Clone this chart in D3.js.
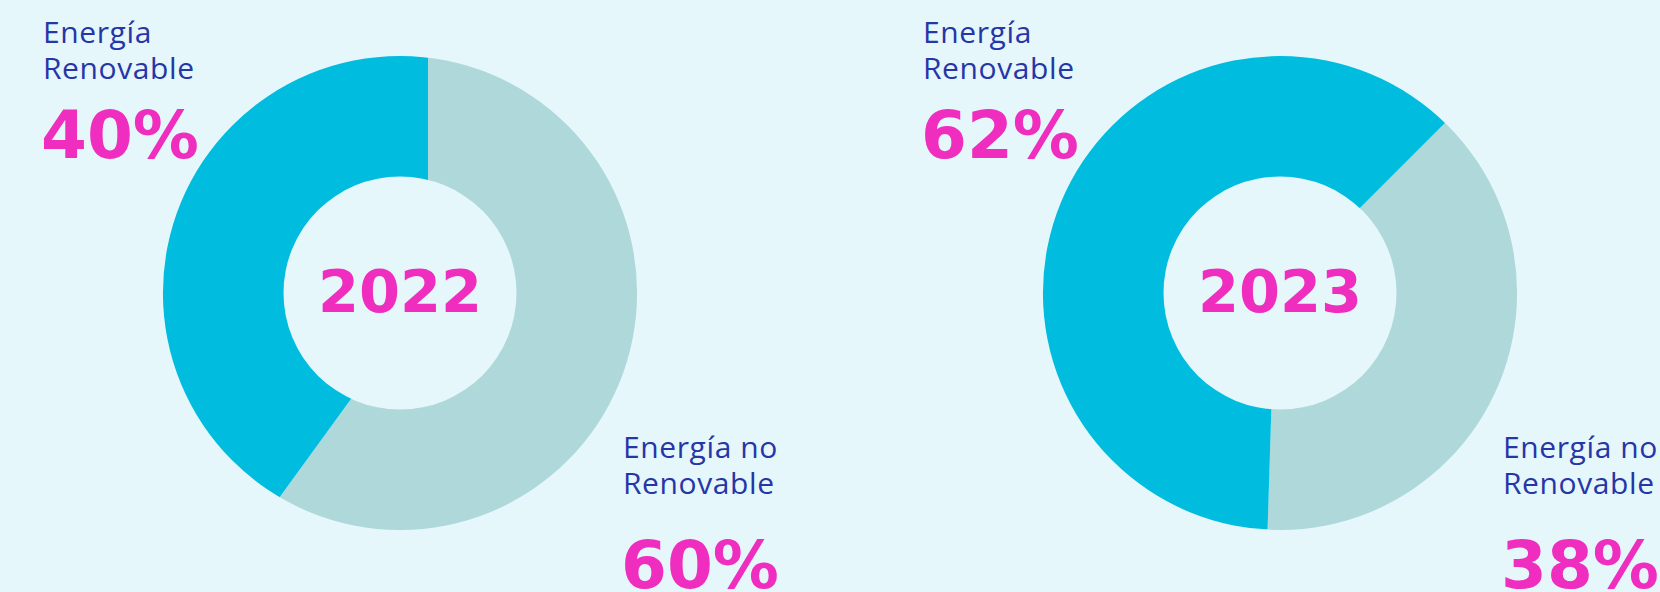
<!DOCTYPE html>
<html>
<head>
<meta charset="utf-8">
<script src="https://cdn.jsdelivr.net/npm/d3@7"></script>
<style>
  html, body { margin: 0; padding: 0; background: #e6f7fc; }
  svg { display: block; }
  .lbl { font-family: "Open Sans", sans-serif; font-size: 30px; font-weight: 500; fill: #2536a6; letter-spacing: 0.6px; }
  .pct { font-family: "DejaVu Sans", sans-serif; font-weight: bold; font-size: 66px; fill: #ef2dbf; }
  .year { font-family: "DejaVu Sans", sans-serif; font-weight: bold; font-size: 59px; fill: #ef2dbf; }
</style>
</head>
<body>
<svg id="chart" width="1660" height="592"></svg>
<script>
// data
const years = ["2022", "2023"];
const renewable = [40, 62];
const nonRenewable = [60, 38];
const renewableLabel = ["Energía", "Renovable"];
const nonRenewableLabel = ["Energía no", "Renovable"];

// layout
const width = 1660, height = 592;
const outerR = 237, innerR = 116.5;
const startDeg = [0, 45];     // where the non-renewable slice starts
const apexShift = [28, -5];   // wedge tip sits a bit off the ring center

let svg = d3.select("#chart");
svg.append("rect").attr("width", width).attr("height", height).attr("fill", "#e6f7fc");

let x = d3.scalePoint().domain(years).range([400, 1280]);
let color = d3.scaleOrdinal().domain(["non", "ren"]).range(["#afd8db", "#00bde0"]);

let ring = d3.arc().innerRadius(innerR).outerRadius(outerR);
let wedge = d3.arc().innerRadius(0).outerRadius(420);

years.forEach((yr, i) => {
  let cx = x(yr), cy = 293;
  let g = svg.append("g").attr("transform", "translate(" + cx + "," + cy + ")");

  g.append("clipPath").attr("id", "ring" + i)
    .append("path")
    .attr("d", ring({startAngle: 0, endAngle: 2 * Math.PI}));

  let a0 = startDeg[i] * Math.PI / 180;
  let pie = d3.pie().sort(null).value(d => d.v)
    .startAngle(a0).endAngle(a0 + 2 * Math.PI);

  let slices = pie([{k: "non", v: nonRenewable[i]}, {k: "ren", v: renewable[i]}]);

  g.append("g").attr("clip-path", "url(#ring" + i + ")")
    .append("g").attr("transform", "translate(" + apexShift[i] + ",0)")
    .selectAll("path")
    .data(slices)
    .enter()
    .append("path")
    .attr("d", wedge)
    .attr("fill", d => color(d.data.k));

  g.append("text")
    .attr("class", "year")
    .attr("text-anchor", "middle")
    .attr("y", 19)
    .text(yr);

  // top-left label
  let tl = svg.append("g").attr("transform", "translate(" + (cx - 357) + ",0)");
  tl.append("text").attr("class", "lbl").attr("y", 43).text(renewableLabel[0]);
  tl.append("text").attr("class", "lbl").attr("y", 79).text(renewableLabel[1]);
  tl.append("text").attr("class", "pct").attr("x", -2).attr("y", 158).text(renewable[i] + "%");

  // bottom-right label
  let br = svg.append("g").attr("transform", "translate(" + (cx + 223) + ",0)");
  br.append("text").attr("class", "lbl").attr("y", 458).text(nonRenewableLabel[0]);
  br.append("text").attr("class", "lbl").attr("y", 494).text(nonRenewableLabel[1]);
  br.append("text").attr("class", "pct").attr("x", -2).attr("y", 588).text(nonRenewable[i] + "%");
});
</script>
</body>
</html>
